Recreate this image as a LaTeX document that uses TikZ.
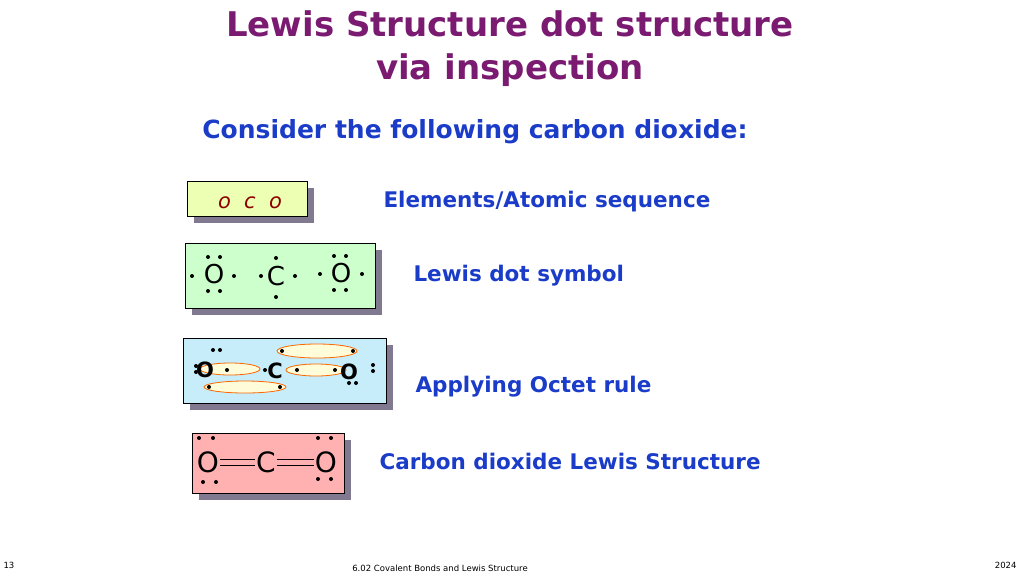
\documentclass[tikz,border=0pt]{standalone}
\usepackage{fontspec}
\setmainfont{DejaVu Sans}
\usetikzlibrary{positioning}
\definecolor{titlepurple}{HTML}{7A1A70}
\definecolor{textblue}{HTML}{1A3CC8}
\definecolor{shadowgray}{HTML}{4A4060}
\tikzset{
  card/.style={draw=black, thick},
  bondpair/.style={draw=orange!80!red, fill=yellow!15, thick},
  heading/.style={font=\fontsize{34}{36}\selectfont\bfseries, text=titlepurple},
  caption/.style={anchor=west, font=\fontsize{21.5}{24}\selectfont\bfseries, text=textblue},
  atom/.style={font=\fontsize{26}{28}\selectfont, inner sep=0pt},
  bigatom/.style={font=\fontsize{28}{30}\selectfont, inner sep=1pt},
  footer/.style={font=\fontsize{8.5}{9}\selectfont},
}
\newcommand{\elecdot}[2]{\fill (#1,#2) circle (2);}
\begin{document}
\begin{tikzpicture}[x=1pt, y=-1pt]
    \useasboundingbox (0,0) rectangle (1024,576);
    % title
    \node[heading] (title1) at (510,24) {Lewis Structure dot structure};
    \node[heading] (title2) at (510,70) {via inspection};
    \node[font=\fontsize{25}{28}\selectfont\bfseries, text=textblue] (consider) at (475,132) {Consider the following carbon dioxide:};
    % shadows
    \fill[shadowgray!70] (194,188) rectangle (314,223);
    \fill[shadowgray!70] (192,250) rectangle (382,315);
    \fill[shadowgray!70] (190,345) rectangle (393,410);
    \fill[shadowgray!70] (199,440) rectangle (351,500);
    % boxes
    \filldraw[card, fill=green!25!yellow!30] (187,181) rectangle (307,216);
    \filldraw[card, fill=green!20] (185,243) rectangle (375,308);
    \filldraw[card, fill=cyan!22] (183,338) rectangle (386,403);
    \filldraw[card, fill=red!25!pink!70] (192,433) rectangle (344,493);
    % row 1
    \node[font=\fontsize{21}{22}\selectfont\itshape, text=red!55!black] (seq) at (250,203) {o\ \ c\ \ o};
    \node[caption] (lbl1) at (380,202) {Elements/Atomic sequence};
    % row 2
    \node[atom] (o1) at (214,274) {O};
    \node[atom] (c1) at (276,276) {C};
    \node[atom] (o2) at (341,273) {O};
    \elecdot{208}{257} \elecdot{220}{257} \elecdot{208}{291} \elecdot{220}{291}
    \elecdot{192}{276} \elecdot{234}{276}
    \elecdot{276}{258} \elecdot{276}{297} \elecdot{261}{276} \elecdot{295}{276}
    \elecdot{334}{256} \elecdot{346}{256} \elecdot{334}{290} \elecdot{346}{290}
    \elecdot{320}{274} \elecdot{362}{274}
    \node[caption] (lbl2) at (410,276) {Lewis dot symbol};
    % row 3
    \draw[bondpair] (317,351) ellipse (40 and 7);
    \draw[bondpair] (230,369) ellipse (30 and 6);
    \draw[bondpair] (316,370) ellipse (30 and 6);
    \draw[bondpair] (245,387) ellipse (41 and 6);
    \node[atom, font=\fontsize{21}{24}\selectfont\bfseries] (o3) at (205,370) {O};
    \node[atom, font=\fontsize{21}{24}\selectfont\bfseries] (c3) at (275,371) {C};
    \node[atom, font=\fontsize{21}{24}\selectfont\bfseries] (o4) at (349,372) {O};
    \elecdot{196}{366} \elecdot{196}{372} \elecdot{213}{350} \elecdot{220}{350}
    \elecdot{227}{370} \elecdot{265}{370} \elecdot{297}{370} \elecdot{335}{370}
    \elecdot{282}{351} \elecdot{353}{351} \elecdot{209}{387} \elecdot{280}{387}
    \elecdot{373}{365} \elecdot{373}{371} \elecdot{349}{383} \elecdot{356}{383}
    \node[caption] (lbl3) at (412,387) {Applying Octet rule};
    % row 4
    \node[bigatom] (o5) at (208,462) {O};
    \node[bigatom] (c5) at (266,462) {C};
    \node[bigatom] (o6) at (326,462) {O};
    \draw[thick] ([yshift=-3pt]o5.east) -- ([yshift=-3pt]c5.west);
    \draw[thick] ([yshift=3pt]o5.east) -- ([yshift=3pt]c5.west);
    \draw[thick] ([yshift=-3pt]c5.east) -- ([yshift=-3pt]o6.west);
    \draw[thick] ([yshift=3pt]c5.east) -- ([yshift=3pt]o6.west);
    \elecdot{199}{438} \elecdot{213}{438} \elecdot{203}{482} \elecdot{216}{482}
    \elecdot{318}{438} \elecdot{331}{438} \elecdot{318}{479} \elecdot{331}{479}
    \node[caption] (lbl4) at (376,461) {Carbon dioxide Lewis Structure};
    % footer
    \node[footer, anchor=west] (page) at (0,565) {13};
    \node[footer] (foot) at (440,568) {6.02 Covalent Bonds and Lewis Structure};
    \node[footer, anchor=east] (year) at (1020,565) {2024};
\end{tikzpicture}
\end{document}
